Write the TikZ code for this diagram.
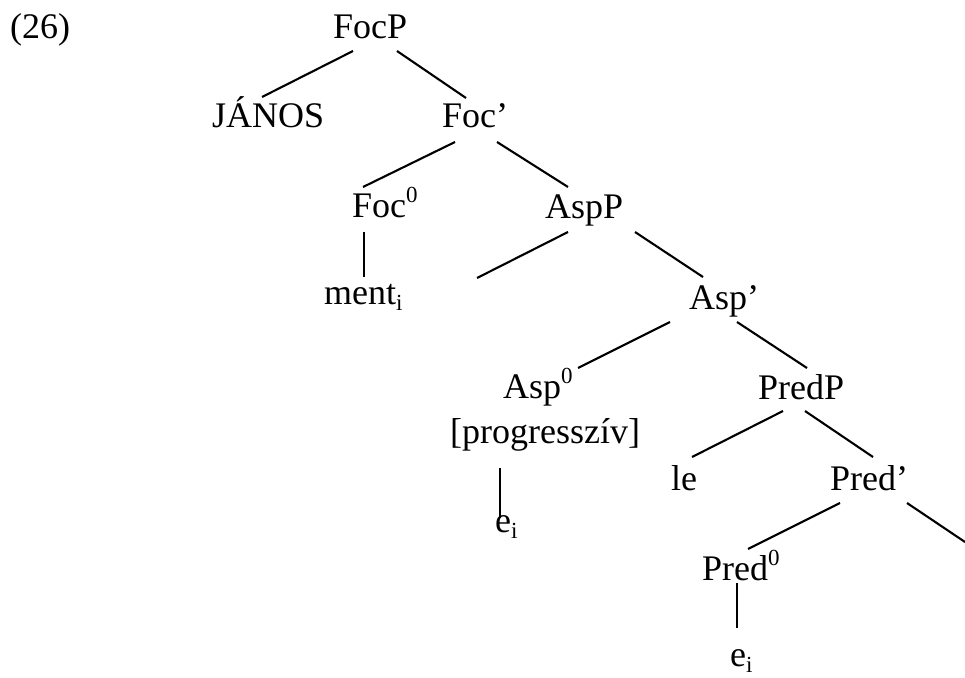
\documentclass[tikz,border=0pt]{standalone}
\usepackage{fontspec}
\setmainfont{Liberation Serif}
\newcommand{\supz}[1]{\raisebox{15pt}{\fontsize{23}{23}\selectfont #1}}
\newcommand{\subz}[1]{\raisebox{-6pt}{\fontsize{23}{23}\selectfont #1}}
\begin{document}
\begin{tikzpicture}[x=1pt,y=-1pt,
  lbl/.style={anchor=base west,inner sep=0pt,font=\fontsize{36}{40}\selectfont},
  branch/.style={line width=2.1pt}]
\useasboundingbox (0,0) rectangle (965,677);

% labels of the tree
\node[lbl] (ex)    at (10,38)   {(26)};
\node[lbl] (FocP)  at (333,38)  {FocP};
\node[lbl] (Janos) at (212,127) {JÁNOS};
\node[lbl] (Focb)  at (442,127) {Foc’};
\node[lbl] (Foco)  at (352,217) {Foc\supz{0}};
\node[lbl] (AspP)  at (545,218) {AspP};
\node[lbl] (ment)  at (324,304) {ment\subz{i}};
\node[lbl] (Aspb)  at (689,309) {Asp’};
\node[lbl] (Aspo)  at (503,398) {Asp\supz{0}};
\node[lbl] (prog)  at (450,443) {[progresszív]};
\node[lbl] (PredP) at (758,399) {PredP};
\node[lbl] (ea)    at (495,532) {e\subz{i}};
\node[lbl] (le)    at (671,490) {le};
\node[lbl] (Predb) at (830,490) {Pred’};
\node[lbl] (Predo) at (702,580) {Pred\supz{0}};
\node[lbl] (eb)    at (730,666) {e\subz{i}};

% branch end points
\coordinate (FocP-l) at (353,51);   \coordinate (Janos-t) at (262,97);
\coordinate (FocP-r) at (397,51);   \coordinate (Focb-t)  at (466,98);
\coordinate (Focb-l) at (455,142);  \coordinate (Foco-t)  at (363,187);
\coordinate (Focb-r) at (497,142);  \coordinate (AspP-t)  at (568,187);
\coordinate (Foco-b) at (364,232);  \coordinate (ment-t)  at (364,277);
\coordinate (AspP-l) at (568,232);  \coordinate (spec-t)  at (477,278);
\coordinate (AspP-r) at (635,232);  \coordinate (Aspb-t)  at (703,277);
\coordinate (Aspb-l) at (670,322);  \coordinate (Aspo-t)  at (578,368);
\coordinate (Aspb-r) at (737,322);  \coordinate (PredP-t) at (807,368);
\coordinate (prog-b) at (500,468);  \coordinate (ea-t)    at (500,518);
\coordinate (PredP-l) at (783,411); \coordinate (le-t)    at (692,457);
\coordinate (PredP-r) at (805,411); \coordinate (Predb-t) at (873,457);
\coordinate (Predb-l) at (840,503); \coordinate (Predo-t) at (748,549);
\coordinate (Predb-r) at (907,503); \coordinate (comp-t)  at (965,542);
\coordinate (Predo-b) at (737,583); \coordinate (eb-t)    at (737,628);

% branches
\draw[branch] (FocP-l) -- (Janos-t);
\draw[branch] (FocP-r) -- (Focb-t);
\draw[branch] (Focb-l) -- (Foco-t);
\draw[branch] (Focb-r) -- (AspP-t);
\draw[branch] (Foco-b) -- (ment-t);
\draw[branch] (AspP-l) -- (spec-t);
\draw[branch] (AspP-r) -- (Aspb-t);
\draw[branch] (Aspb-l) -- (Aspo-t);
\draw[branch] (Aspb-r) -- (PredP-t);
\draw[branch] (prog-b) -- (ea-t);
\draw[branch] (PredP-l) -- (le-t);
\draw[branch] (PredP-r) -- (Predb-t);
\draw[branch] (Predb-l) -- (Predo-t);
\draw[branch] (Predb-r) -- (comp-t);
\draw[branch] (Predo-b) -- (eb-t);
\end{tikzpicture}
\end{document}
